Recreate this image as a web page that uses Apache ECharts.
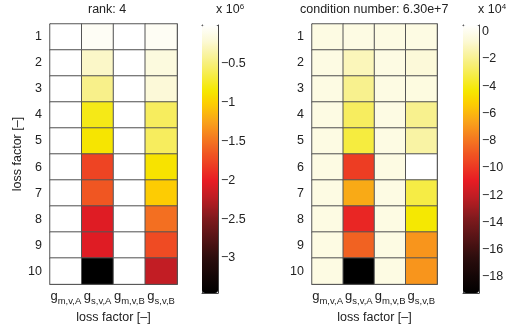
<!DOCTYPE html>
<html><head><meta charset="utf-8">
<script src="https://cdn.jsdelivr.net/npm/echarts@6/dist/echarts.min.js"></script>
<style>html,body{margin:0;padding:0;background:#fff}#c{width:516px;height:329px}</style>
</head><body><div id="c"></div>
<script>
// ---- data ----
const columns = ['m,v,A', 's,v,A', 'm,v,B', 's,v,B'];
const rows = ['1','2','3','4','5','6','7','8','9','10'];
// rank panel values (x 10^6), one array per column, rows 1..10
const rankCol1 = [0,0,0,0,0,0,0,0,0,0];
const rankCol2 = [-0.05,-0.25,-0.45,-0.78,-0.86,-1.76,-1.66,-2.05,-2.05,-3.45];
const rankCol3 = [0,0,0,0,0,0,0,0,0,0];
const rankCol4 = [-0.06,-0.17,-0.2,-0.58,-0.58,-0.88,-1.02,-1.52,-1.72,-2.2];
// condition-number panel values (x 10^4)
const condCol1 = [-0.3,-0.3,-0.3,-0.3,-0.3,-0.3,-0.3,-0.3,-0.3,-0.3];
const condCol2 = [-0.3,-1.2,-2.0,-2.8,-3.3,-9.8,-6.4,-10.6,-8.6,-19.2];
const condCol3 = [-0.3,-0.3,-0.3,-0.3,-0.3,-0.3,-0.3,-0.3,-0.3,-0.3];
const condCol4 = [-0.3,-0.6,-0.4,-2.0,-1.6,0.5,-3.2,-4.3,-7.0,-7.0];
const rankRange = [-3.45, 0];
const condRange = [-19.2, 0.5];
const rankTicks = [-3, -2.5, -2, -1.5, -1, -0.5];
const condTicks = [-18, -16, -14, -12, -10, -8, -6, -4, -2, 0];
const titles = ['rank: 4', 'condition number: 6.30e+7'];
const exps = ['6', '4'];

// ---- colormap (hot-like) ----
const stops = [
  [0.00, [0,0,0]],
  [0.13, [43,13,13]],
  [0.275,[125,26,29]],
  [0.36, [192,29,36]],
  [0.42, [232,28,36]],
  [0.49, [238,68,35]],
  [0.565,[243,115,33]],
  [0.64, [249,163,26]],
  [0.71, [253,208,0]],
  [0.755,[245,232,0]],
  [0.855,[247,239,122]],
  [0.94, [252,249,214]],
  [1.00, [255,255,255]]
];
function cmap(n){
  const out=[];
  for(let i=0;i<n;i++){
    const f=i/(n-1);
    let k=0; while(k<stops.length-2 && f>stops[k+1][0]) k++;
    const a=stops[k], b=stops[k+1];
    const t=(f-a[0])/(b[0]-a[0]);
    const c=a[1].map((v,j)=>Math.round(v+(b[1][j]-v)*t));
    out.push('rgb('+c.join(',')+')');
  }
  return out;
}
const colors = cmap(120);

function toData(cols){
  const d=[];
  cols.forEach((col,x)=>col.forEach((v,y)=>d.push([x,y,v])));
  return d;
}
const FONT = 'Liberation Sans';
const frame = '#444';
const minus = s => String(s).replace('-', '\u2212');

const gridsPos = [
  {left:50, top:24, width:127, height:268},
  {left:312, top:24, width:125, height:268},
  {left:202, top:25, width:16, height:268},
  {left:463, top:25, width:16, height:268}
];

const xAxes=[], yAxes=[];
[0,1].forEach(g=>{
  xAxes.push({type:'category', gridIndex:g, data:columns, position:'bottom',
    axisLine:{show:true, lineStyle:{color:frame, width:1}},
    axisTick:{show:true, inside:true, alignWithLabel:true, length:3, lineStyle:{color:frame}},
    axisLabel:{margin:6, interval:0, formatter: v=>'{g|g}{s|'+v+'}',
      rich:{g:{fontFamily:FONT, fontSize:13, color:'#222', verticalAlign:'bottom', padding:[0,0,3,0]},
            s:{fontFamily:FONT, fontSize:9.5, color:'#222', verticalAlign:'bottom'}}},
    name:'loss factor [\u2013]', nameLocation:'middle', nameGap:25,
    nameTextStyle:{fontFamily:FONT, fontSize:12.5, color:'#222'}});
  xAxes.push({type:'category', gridIndex:g, data:columns, position:'top',
    axisLine:{show:true, lineStyle:{color:frame, width:1}},
    axisTick:{show:true, inside:true, alignWithLabel:true, length:3, lineStyle:{color:frame}},
    axisLabel:{show:false}});
  yAxes.push({type:'category', gridIndex:g, data:rows, inverse:true, position:'left',
    axisLine:{show:true, lineStyle:{color:frame, width:1}},
    axisTick:{show:true, inside:true, alignWithLabel:true, length:3, lineStyle:{color:frame}},
    axisLabel:{margin:8, fontFamily:FONT, fontSize:12.5, color:'#222'},
    name: g===0 ? 'loss factor [\u2013]' : '', nameLocation:'middle', nameGap:23,
    nameTextStyle:{fontFamily:FONT, fontSize:12.5, color:'#222'}});
  yAxes.push({type:'category', gridIndex:g, data:rows, inverse:true, position:'right',
    axisLine:{show:true, lineStyle:{color:frame, width:1}},
    axisTick:{show:true, inside:true, alignWithLabel:true, length:3, lineStyle:{color:frame}},
    axisLabel:{show:false}});
});
// colorbar axes
[[2,rankRange,rankTicks],[3,condRange,condTicks]].forEach(([g,rng,ticks])=>{
  xAxes.push({type:'value', gridIndex:g, min:0, max:1, show:true,
    axisLine:{show:true, onZero:false, lineStyle:{color:frame}}, axisTick:{show:false}, axisLabel:{show:false}, splitLine:{show:false}});
  xAxes.push({type:'value', gridIndex:g, min:0, max:1, position:'top', show:true,
    axisLine:{show:true, onZero:false, lineStyle:{color:frame}}, axisTick:{show:false}, axisLabel:{show:false}, splitLine:{show:false}});
  yAxes.push({type:'value', gridIndex:g, min:rng[0], max:rng[1], position:'right',
    axisLine:{show:true, onZero:false, lineStyle:{color:frame}},
    axisTick:{show:true, inside:true, length:3, customValues:ticks, lineStyle:{color:frame}},
    axisLabel:{show:true, customValues:ticks, margin:3, fontFamily:FONT, fontSize:12.5, color:'#222', formatter:v=>minus(v)},
    splitLine:{show:false}});
  yAxes.push({type:'value', gridIndex:g, min:rng[0], max:rng[1], position:'left',
    axisLine:{show:true, onZero:false, lineStyle:{color:frame}},
    axisTick:{show:true, inside:true, length:3, customValues:ticks, lineStyle:{color:frame}},
    axisLabel:{show:false}, splitLine:{show:false}});
});

const chart = echarts.init(document.getElementById('c'), null, {renderer:'canvas'});
chart.setOption({
  animation:false,
  backgroundColor:'#fff',
  grid: gridsPos,
  xAxis: xAxes,
  yAxis: yAxes,
  visualMap: [
    {type:'continuous', seriesIndex:0, min:rankRange[0], max:rankRange[1], calculable:false,
     left:gridsPos[2].left, top:gridsPos[2].top, itemWidth:16, itemHeight:268, padding:0,
     inRange:{color:colors}, text:null, showLabel:false, hoverLink:false},
    {type:'continuous', seriesIndex:1, min:condRange[0], max:condRange[1], calculable:false,
     left:gridsPos[3].left, top:gridsPos[3].top, itemWidth:16, itemHeight:268, padding:0,
     inRange:{color:colors}, text:null, showLabel:false, hoverLink:false}
  ],
  series: [
    {type:'heatmap', xAxisIndex:0, yAxisIndex:0, data:toData([rankCol1,rankCol2,rankCol3,rankCol4]),
     itemStyle:{borderColor:'#555', borderWidth:1}, emphasis:{disabled:true}},
    {type:'heatmap', xAxisIndex:2, yAxisIndex:2, data:toData([condCol1,condCol2,condCol3,condCol4]),
     itemStyle:{borderColor:'#555', borderWidth:1}, emphasis:{disabled:true}}
  ],
  graphic: [
    {type:'text', left:113-25, top:3, style:{text:titles[0], fontFamily:FONT, fontSize:12.5, fill:'#222', textAlign:'center', x:25}},
    {type:'text', left:300, top:3, style:{text:titles[1], fontFamily:FONT, fontSize:12.5, fill:'#222'}},
    {type:'text', left:216, top:3, style:{rich:{a:{fontFamily:FONT,fontSize:12.5,fill:'#222',verticalAlign:'bottom'},b:{fontFamily:FONT,fontSize:8,fill:'#222',verticalAlign:'top'}}, text:'{a|x 10}{b|'+exps[0]+'}'}},
    {type:'text', left:478, top:3, style:{rich:{a:{fontFamily:FONT,fontSize:12.5,fill:'#222',verticalAlign:'bottom'},b:{fontFamily:FONT,fontSize:8,fill:'#222',verticalAlign:'top'}}, text:'{a|x 10}{b|'+exps[1]+'}'}}
  ]
});
</script></body></html>
